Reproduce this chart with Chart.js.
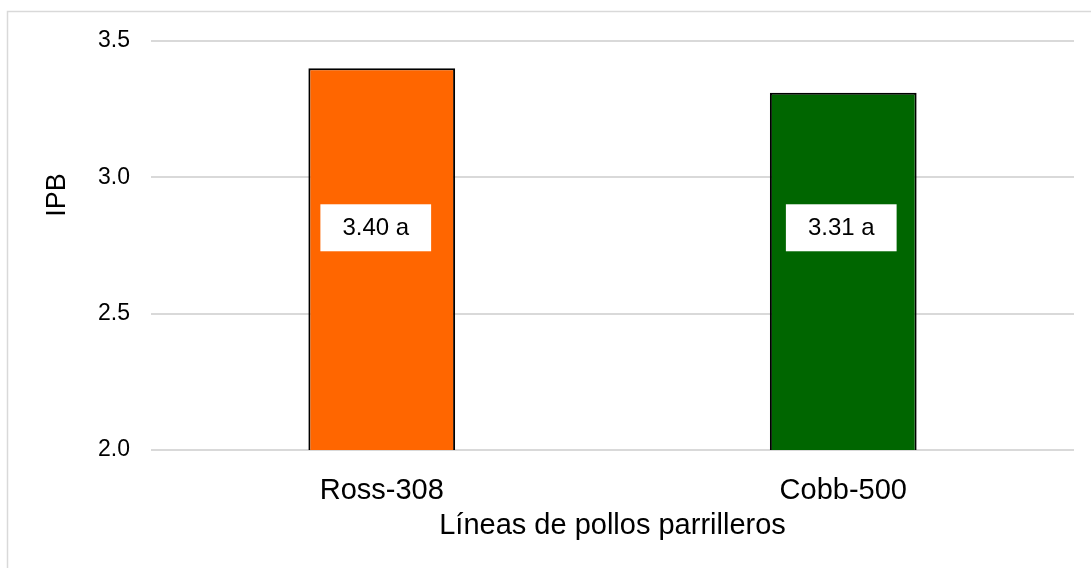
<!DOCTYPE html>
<html><head><meta charset="utf-8">
<script src="https://cdn.jsdelivr.net/npm/chart.js@4"></script>
<style>html,body{margin:0;padding:0;background:#fff;overflow:hidden}#wrap{width:1091px;height:568px;position:relative}</style>
</head><body><div id="wrap"><canvas id="c" width="1091" height="568"></canvas></div>
<script>
const categories = ['Ross-308', 'Cobb-500'];
const ipbValues = [3.40, 3.31];
const significance = ['a', 'a'];
const barColors = ['#FF6600', '#006600'];
const yTicks = [2.0, 2.5, 3.0, 3.5];
const yAxisTitle = 'IPB';
const xAxisTitle = 'Líneas de pollos parrilleros';

const FONT = "'Liberation Sans', Arial, Helvetica, sans-serif";

const framePlugin = {
  id: 'frame',
  beforeDraw(chart) {
    const ctx = chart.ctx;
    ctx.save();
    ctx.fillStyle = '#fff';
    ctx.fillRect(0, 0, chart.width, chart.height);
    ctx.strokeStyle = '#d9d9d9';
    ctx.lineWidth = 1.5;
    ctx.strokeRect(7.5, 11.5, 3000, 3000);
    ctx.restore();
  }
};

const labelPlugin = {
  id: 'valueLabels',
  afterDatasetsDraw(chart, args, opts) {
    const ctx = chart.ctx;
    const meta = chart.getDatasetMeta(0);
    const yScale = chart.scales.y;
    const cy = yScale.getPixelForValue(opts.anchorValue);
    ctx.save();
    ctx.font = '24px ' + FONT;
    ctx.textAlign = 'center';
    ctx.textBaseline = 'middle';
    meta.data.forEach((bar, i) => {
      const txt = ipbValues[i].toFixed(2) + ' ' + significance[i];
      const w = ctx.measureText(txt).width + 44;
      const h = 47;
      const cx = bar.x + opts.dx[i];
      ctx.fillStyle = '#fff';
      ctx.fillRect(cx - w / 2, cy - h / 2, w, h);
      ctx.fillStyle = '#000';
      ctx.fillText(txt, cx, cy + 1);
    });
    ctx.restore();
  }
};

const titlePlugin = {
  id: 'axisTitles',
  afterDraw(chart) {
    const ctx = chart.ctx;
    const a = chart.chartArea;
    ctx.save();
    ctx.fillStyle = '#000';
    ctx.textAlign = 'center';
    ctx.textBaseline = 'middle';
    ctx.font = '29px ' + FONT;
    ctx.fillText(xAxisTitle, (a.left + a.right) / 2, 526);
    ctx.translate(57, 195);
    ctx.rotate(-Math.PI / 2);
    ctx.font = '27px ' + FONT;
    ctx.fillText(yAxisTitle, 0, 1);
    ctx.restore();
  }
};

new Chart(document.getElementById('c'), {
  type: 'bar',
  data: {
    labels: categories,
    datasets: [{
      data: ipbValues,
      backgroundColor: barColors,
      borderColor: '#000',
      borderWidth: 2,
      borderSkipped: false,
      categoryPercentage: 1,
      barPercentage: 0.318
    }]
  },
  options: {
    responsive: false,
    devicePixelRatio: 1,
    animation: false,
    layout: { padding: { top: 41, right: 17, left: 0, bottom: 0 } },
    plugins: {
      legend: { display: false },
      tooltip: { enabled: false },
      valueLabels: { anchorValue: 2.815, dx: [-6, -2] }
    },
    scales: {
      x: {
        grid: { display: false },
        border: { display: false },
        ticks: { color: '#000', font: { family: FONT, size: 29 }, padding: 16 },
        afterFit(s) { s.height = 118; }
      },
      y: {
        min: 2, max: 3.5,
        afterBuildTicks(s) { s.ticks = yTicks.map(v => ({ value: v })); },
        grid: { color: '#d9d9d9', lineWidth: 2, drawTicks: false },
        border: { display: false },
        ticks: {
          color: '#000', font: { family: FONT, size: 23 }, padding: 21,
          callback: v => Number(v).toFixed(1)
        },
        afterFit(s) { s.width = 151; }
      }
    }
  },
  plugins: [framePlugin, labelPlugin, titlePlugin]
});
</script>
</body></html>
